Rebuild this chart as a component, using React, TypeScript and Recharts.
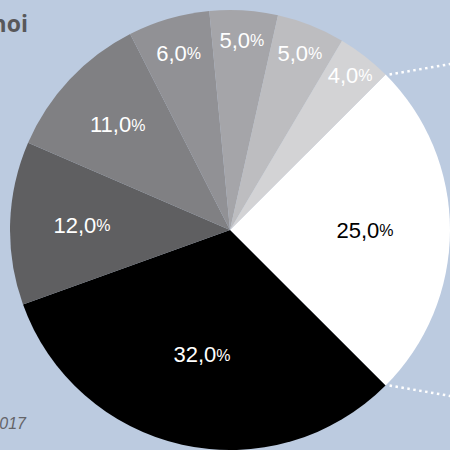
import React from 'react';
import { PieChart, Pie, Cell } from 'recharts';

const shares = [25, 32, 12, 11, 6, 5, 5, 4];
const sliceNames = ['A', 'B', 'C', 'D', 'E', 'F', 'G', 'H'];
const sliceColors = ['#ffffff', '#000000', '#5f5f61', '#808083', '#919195', '#a5a5a9', '#bdbdc0', '#d3d3d5'];
const labelColors = ['#000000', '#ffffff', '#ffffff', '#ffffff', '#ffffff', '#ffffff', '#ffffff', '#ffffff'];

const data = shares.map((v, i) => ({ name: sliceNames[i], value: v }));

const RAD = Math.PI / 180;
const BG = '#bccbe0';

const renderLabel = (props: any) => {
  const { cx, cy, midAngle, outerRadius, value, index, startAngle, endAngle } = props;
  // small slices get pushed towards the rim
  const offset = value <= 12 ? value * 6 : 72 + (value - 12);
  const r = outerRadius - offset;
  const x = cx + r * Math.cos(-midAngle * RAD);
  const y = cy + r * Math.sin(-midAngle * RAD);
  const txt = value.toFixed(1).replace('.', ',');
  let lines = null;
  if (index === 0) {
    const p1x = cx + outerRadius * Math.cos(-startAngle * RAD);
    const p1y = cy + outerRadius * Math.sin(-startAngle * RAD);
    const p2x = cx + outerRadius * Math.cos(-endAngle * RAD);
    const p2y = cy + outerRadius * Math.sin(-endAngle * RAD);
    lines = (
      <g stroke="#ffffff" strokeWidth={2.5} strokeDasharray="2.5 3.5">
        <line x1={p1x + 4} y1={p1y} x2={p1x + 80} y2={p1y - 13} />
        <line x1={p2x + 4} y1={p2y} x2={p2x + 80} y2={p2y + 13} />
      </g>
    );
  }
  return (
    <g>
      {lines}
      <text
        x={x}
        y={y}
        textAnchor="middle"
        dominantBaseline="central"
        fill={labelColors[index]}
        fontFamily="'Liberation Sans', Arial, sans-serif"
        fontSize={22}
      >
        {txt}
        <tspan fontSize={16}>%</tspan>
      </text>
    </g>
  );
};

export default function App() {
  return (
    <div style={{ position: 'absolute', left: 0, top: 0, width: 450, height: 450, background: BG, overflow: 'hidden' }}>
      <PieChart width={450} height={450} margin={{ top: 0, right: 0, bottom: 0, left: 0 }}>
        <Pie
          data={data}
          dataKey="value"
          nameKey="name"
          cx={230}
          cy={230}
          outerRadius={220}
          startAngle={45}
          endAngle={-315}
          stroke="none"
          labelLine={false}
          label={renderLabel}
          isAnimationActive={false}
        >
          {data.map((d, i) => (
            <Cell key={d.name} fill={sliceColors[i]} />
          ))}
        </Pie>
      </PieChart>
      <svg width={450} height={450} style={{ position: 'absolute', left: 0, top: 0, pointerEvents: 'none' }}>
        <text x={28} y={32} textAnchor="end" fontFamily="'Open Sans', sans-serif" fontWeight={700} fontSize={23} fill="#58585a">
          noi
        </text>
        <text x={26} y={429} textAnchor="end" fontFamily="'Liberation Sans', Arial, sans-serif" fontStyle="italic" fontSize={16} fill="#646468">
          2017
        </text>
      </svg>
    </div>
  );
}
